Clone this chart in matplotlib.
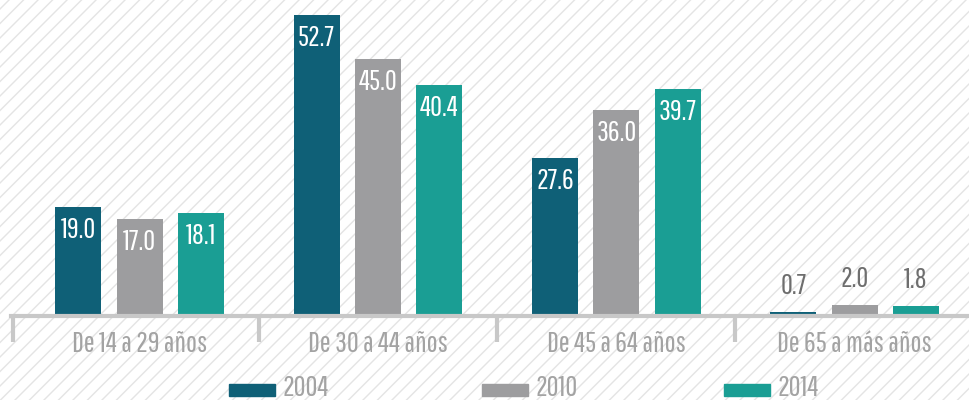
import numpy as np
import matplotlib.pyplot as plt
from matplotlib.patches import Rectangle

# datos
grupos = ['De 14 a 29 años', 'De 30 a 44 años', 'De 45 a 64 años', 'De 65 a más años']
anios = ['2004', '2010', '2014']
v2004 = [19.0, 52.7, 27.6, 0.7]
v2010 = [17.0, 45.0, 36.0, 2.0]
v2014 = [18.1, 40.4, 39.7, 1.8]
colores = ['#0f6077', '#9d9d9f', '#1a9e94']

plt.rcParams['font.family'] = ['Pathway Gothic One', 'DejaVu Sans']

fig = plt.figure(figsize=(9.69, 4.0), dpi=100)

# fondo rayado
bg = fig.add_axes([0, 0, 1, 1], zorder=-1)
bg.set_xlim(0, 969)
bg.set_ylim(0, 400)
bg.axis('off')
for c in np.arange(-420, 980, 14.5):
    bg.plot([c, c + 420], [0, 420], color='#e4e4e4', lw=1.0, zorder=1)

ax = fig.add_axes([11 / 969, 0.21, 958 / 969, 0.79])
ax.patch.set_alpha(0)
ax.set_xlim(-0.54, 3.48)
ax.set_ylim(0, 55.32)

x = np.arange(len(grupos))
off = 0.257
ancho = 0.193
for k, vals in enumerate([v2004, v2010, v2014]):
    barras = ax.bar(x + (k - 1) * off, vals, width=ancho, color=colores[k], zorder=3)
    for b, v in zip(barras, vals):
        cx = b.get_x() + b.get_width() / 2
        if v > 5:
            ax.annotate(f'{v:.1f}', (cx, v), xytext=(0, -23), textcoords='offset pixels',
                        ha='center', va='center', color='white', fontsize=21)
        else:
            ax.annotate(f'{v:.1f}', (cx, v), xytext=(0, 13), textcoords='offset pixels',
                        ha='center', va='bottom', color='#6e6e6e', fontsize=21)

for s in ['top', 'right', 'left']:
    ax.spines[s].set_visible(False)
ax.spines['bottom'].set_color('#c8c8c8')
ax.spines['bottom'].set_linewidth(3)
ax.spines['bottom'].set_zorder(4)
ax.set_yticks([])

ax.set_xticks(x)
ax.set_xticklabels(grupos, fontsize=21, color='#a3a3a3')
ax.tick_params(axis='x', which='major', length=0, pad=11)
ax.set_xticks([-0.53, 0.5, 1.5, 2.5], minor=True)
ax.tick_params(axis='x', which='minor', length=19, width=3, color='#c8c8c8')

# leyenda
ley_x = [229, 482, 724]
for k, a in enumerate(anios):
    bg.add_patch(Rectangle((ley_x[k], 4), 46, 12, color=colores[k], zorder=3))
    bg.text(ley_x[k] + 54, 12, a, fontsize=21, color='#a3a3a3', va='center', ha='left', zorder=3)

fig.savefig('out.png', dpi=100)
